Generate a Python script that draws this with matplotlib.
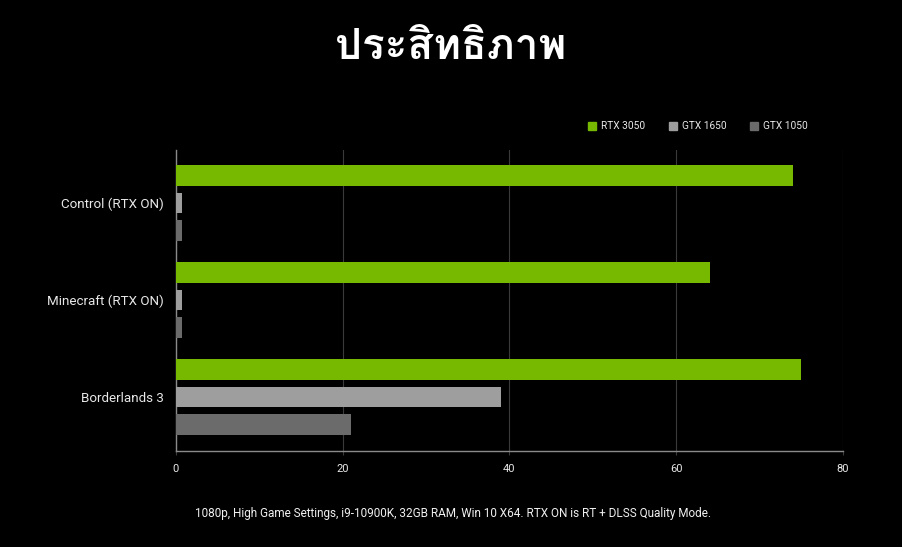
import numpy as np
import matplotlib
matplotlib.use("Agg")
import matplotlib.pyplot as plt
from matplotlib import font_manager
from matplotlib.ft2font import FT2Font
from matplotlib.patches import Patch

games = ["Control (RTX ON)", "Minecraft (RTX ON)", "Borderlands 3"]
series = ["RTX 3050", "GTX 1650", "GTX 1050"]
rtx3050 = [74, 64, 75]
gtx1650 = [0.7, 0.7, 39]
gtx1050 = [0.7, 0.7, 21]
colors = ["#76b900", "#9e9e9e", "#6b6b6b"]
title = "ประสิทธิภาพ"
footer = "1080p, High Game Settings, i9-10900K, 32GB RAM, Win 10 X64. RTX ON is RT + DLSS Quality Mode."


def thai_font():
    # look for any installed font that has Thai glyphs
    for f in font_manager.fontManager.ttflist:
        try:
            ft = FT2Font(f.fname)
            cmap = ft.get_charmap()
        except Exception:
            continue
        if all(ord(c) in cmap for c in title):
            return f.name
    return None


tf = thai_font()
title_family = [tf, "DejaVu Sans"] if tf else ["DejaVu Sans"]

plt.rcParams["font.family"] = ["Roboto", "DejaVu Sans"]

fig = plt.figure(figsize=(9.02, 5.47), dpi=100, facecolor="black")
ax = fig.add_axes([0.1951, 0.1755, 0.7395, 0.5503], facecolor="black")

y = np.arange(len(games))
h = 0.215
off = 0.282
for i, vals in enumerate([rtx3050, gtx1650, gtx1050]):
    ax.barh(y + (i - 1) * off, vals, height=h, color=colors[i], zorder=3)

ax.set_xlim(0, 80)
ax.set_ylim(2.557, -0.546)
ax.set_xticks([0, 20, 40, 60, 80])
ax.set_yticks(y)
ax.set_yticklabels(games)
ax.grid(axis="x", color="#3a3a3a", linewidth=0.8, zorder=0)
for s in ["top", "right"]:
    ax.spines[s].set_visible(False)
for s in ["left", "bottom"]:
    ax.spines[s].set_color("#8a8a8a")
    ax.spines[s].set_linewidth(1)
ax.tick_params(axis="x", colors="#3a3a3a", labelcolor="#e8e8e8", labelsize=8, length=3, pad=6)
ax.tick_params(axis="y", length=0, labelcolor="#e8e8e8", labelsize=9.6, pad=9)

fig.text(0.5, 0.913, title, ha="center", va="center", color="white",
         fontsize=30.5, fontweight="bold", family=title_family)

handles = [Patch(color=c, label=s) for c, s in zip(colors, series)]
leg = fig.legend(handles=handles, loc="center", bbox_to_anchor=(0.774, 0.769), ncol=3,
                 frameon=False, fontsize=7.3, handlelength=0.8, handleheight=0.8,
                 handletextpad=0.5, columnspacing=2.3, labelcolor="#e8e8e8")

fig.text(0.502, 0.061, footer, ha="center", va="center", color="#f0f0f0", fontsize=8.45)

fig.savefig("out.png", dpi=100, facecolor="black")
